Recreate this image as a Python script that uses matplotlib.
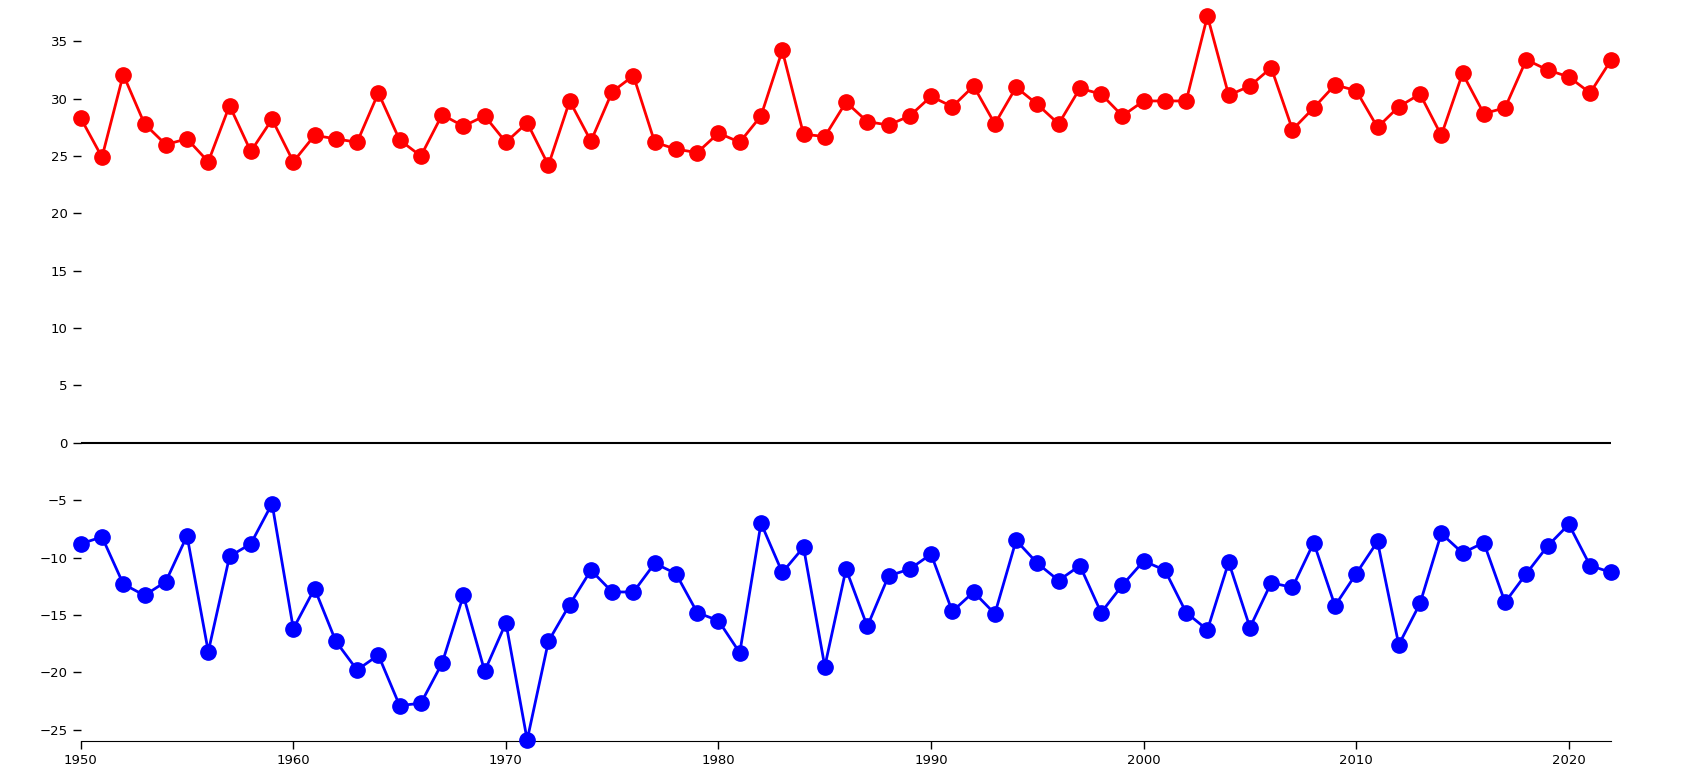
import numpy as np
import matplotlib.pyplot as plt

years = np.arange(1950, 2023)
t_max = [28.3, 24.9, 32.1, 27.8, 26.0, 26.5, 24.5, 29.4, 25.4, 28.2,
         24.5, 26.8, 26.5, 26.2, 30.5, 26.4, 25.0, 28.6, 27.6, 28.5,
         26.2, 27.9, 24.2, 29.8, 26.3, 30.6, 32.0, 26.2, 25.6, 25.3,
         27.0, 26.2, 28.5, 34.2, 26.9, 26.7, 29.7, 28.0, 27.7, 28.5,
         30.2, 29.3, 31.1, 27.8, 31.0, 29.5, 27.8, 30.9, 30.4, 28.5,
         29.8, 29.8, 29.8, 37.2, 30.3, 31.1, 32.7, 27.3, 29.2, 31.2,
         30.7, 27.5, 29.3, 30.4, 26.8, 32.2, 28.7, 29.2, 33.4, 32.5,
         31.9, 30.5, 33.4]
t_min = [-8.8, -8.2, -12.3, -13.3, -12.1, -8.1, -18.2, -9.9, -8.8, -5.3,
         -16.2, -12.7, -17.3, -19.8, -18.5, -22.9, -22.7, -19.2, -13.3, -19.9,
         -15.7, -25.9, -17.3, -14.1, -11.1, -13.0, -13.0, -10.5, -11.4, -14.8,
         -15.5, -18.3, -7.0, -11.3, -9.1, -19.5, -11.0, -16.0, -11.6, -11.0,
         -9.7, -14.7, -13.0, -14.9, -8.5, -10.5, -12.0, -10.7, -14.8, -12.4,
         -10.3, -11.1, -14.8, -16.3, -10.4, -16.1, -12.2, -12.6, -8.7, -14.2,
         -11.4, -8.6, -17.6, -14.0, -7.9, -9.6, -8.7, -13.9, -11.4, -9.0,
         -7.1, -10.7, -11.3]

fig = plt.figure(figsize=(16.82, 7.72), dpi=100)
ax = fig.add_axes([0.048, 0.04, 0.91, 0.96])

ax.plot(years, t_max, color="red", lw=2, marker="o", ms=11, clip_on=False, zorder=3)
ax.plot(years, t_min, color="blue", lw=2, marker="o", ms=11, clip_on=False, zorder=3)
ax.axhline(0, color="black", lw=1.5)

ax.set_xlim(1950, 2022)
ax.set_ylim(-26, 38.6)
ax.set_yticks(np.arange(-25, 36, 5))
ax.set_xticks(np.arange(1950, 2021, 10))
for s in ["top", "right", "left"]:
    ax.spines[s].set_visible(False)
ax.spines["bottom"].set_color("black")
ax.tick_params(labelsize=9.5, length=6, width=1)
ax.set_facecolor("white")

fig.savefig("out.png", dpi=100)
